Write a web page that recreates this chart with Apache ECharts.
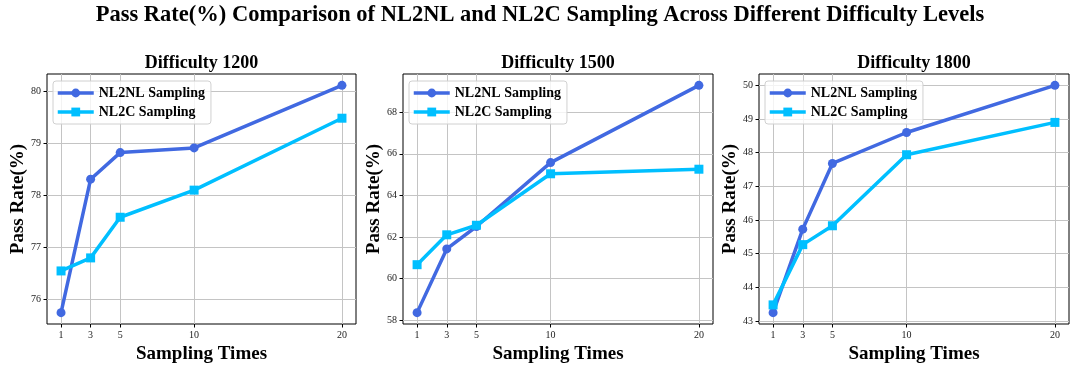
<!DOCTYPE html>
<html>
<head>
<meta charset="utf-8">
<title>Pass Rate Comparison</title>
<script src="https://cdn.jsdelivr.net/npm/echarts@6/dist/echarts.min.js"></script>
<style>
    html, body { margin: 0; padding: 0; background: #fff; }
    #chart { width: 1080px; height: 371px; }
</style>
</head>
<body>
<div id="chart"></div>
<script>
var samplingTimes = [1, 3, 5, 10, 20];
var xTicks = [1, 3, 5, 10, 20];

var nl2nl1200 = [75.75, 78.31, 78.82, 78.91, 80.11];
var nl2c1200 = [76.55, 76.80, 77.58, 78.10, 79.48];
var nl2nl1500 = [58.35, 61.42, 62.50, 65.58, 69.30];
var nl2c1500 = [60.66, 62.10, 62.56, 65.04, 65.26];
var nl2nl1800 = [43.25, 45.73, 47.68, 48.60, 50.00];
var nl2c1800 = [43.48, 45.27, 45.83, 47.94, 48.90];

var yTicks1200 = [76, 77, 78, 79, 80];
var yTicks1500 = [58, 60, 62, 64, 66, 68];
var yTicks1800 = [43, 44, 45, 46, 47, 48, 49, 50];

var difficulties = ["Difficulty 1200", "Difficulty 1500", "Difficulty 1800"];
var seriesNames = ["NL2NL Sampling", "NL2C Sampling"];

(function() {
    var chart = echarts.init(document.getElementById("chart")),
        serif = "'Liberation Serif', 'Times New Roman', serif",
        colors = ["#4169E1", "#00BFFF"],
        lefts = [47, 403, 759],
        widths = [309, 310, 310],
        top = 74,
        height = 250,
        panels = [
            { a: nl2nl1200, b: nl2c1200, ticks: yTicks1200 },
            { a: nl2nl1500, b: nl2c1500, ticks: yTicks1500 },
            { a: nl2nl1800, b: nl2c1800, ticks: yTicks1800 }
        ],
        grid = [], xAxis = [], yAxis = [], series = [], legend = [], title = [];

    // matplotlib style 5% margins
    function pad(arr) {
        var lo = Math.min.apply(Math, arr),
            hi = Math.max.apply(Math, arr),
            m = (hi - lo) * 0.05;
        return [lo - m, hi + m];
    }

    function pairs(ys) {
        return samplingTimes.map(function(x, i) {
            return [x, ys[i]];
        });
    }

    title.push({
        text: "Pass Rate(%) Comparison of NL2NL and NL2C Sampling Across Different Difficulty Levels",
        left: "center",
        top: 4,
        padding: 0,
        textStyle: { fontFamily: serif, fontWeight: "bold", fontSize: 22.5, color: "#000" }
    });

    panels.forEach(function(p, i) {
        var xr = pad(samplingTimes),
            yr = pad(p.a.concat(p.b));

        grid.push({
            left: lefts[i],
            top: top,
            width: widths[i],
            height: height,
            show: true,
            borderColor: "#000",
            borderWidth: 1,
            backgroundColor: "transparent"
        });

        title.push({
            text: difficulties[i],
            left: lefts[i] + widths[i] / 2,
            textAlign: "center",
            top: 54,
            padding: 0,
            textStyle: { fontFamily: serif, fontWeight: "bold", fontSize: 18, color: "#000" }
        });

        xAxis.push({
            type: "value",
            gridIndex: i,
            min: xr[0],
            max: xr[1],
            name: "Sampling Times",
            nameLocation: "middle",
            nameGap: 18,
            nameTextStyle: { fontFamily: serif, fontWeight: "bold", fontSize: 19, color: "#000" },
            axisLine: { show: false },
            axisTick: { show: true, length: 3.5, customValues: xTicks, lineStyle: { color: "#000" } },
            axisLabel: { customValues: xTicks, margin: 6, fontFamily: serif, fontSize: 10, color: "#222" },
            splitLine: { show: true, lineStyle: { color: "#c4c4c4", width: 1 } }
        });

        yAxis.push({
            type: "value",
            gridIndex: i,
            min: yr[0],
            max: yr[1],
            name: "Pass Rate(%)",
            nameLocation: "middle",
            nameGap: 19,
            nameTextStyle: { fontFamily: serif, fontWeight: "bold", fontSize: 19, color: "#000" },
            axisLine: { show: false },
            axisTick: { show: true, length: 3.5, customValues: p.ticks, lineStyle: { color: "#000" } },
            axisLabel: { customValues: p.ticks, margin: 6, fontFamily: serif, fontSize: 10, color: "#222" },
            splitLine: { show: true, lineStyle: { color: "#c4c4c4", width: 1 } }
        });

        [p.a, p.b].forEach(function(ys, k) {
            series.push({
                name: seriesNames[k],
                type: "line",
                xAxisIndex: i,
                yAxisIndex: i,
                data: pairs(ys),
                symbol: k === 0 ? "circle" : "rect",
                symbolSize: 9,
                showAllSymbol: true,
                lineStyle: { color: colors[k], width: 3.5 },
                itemStyle: { color: colors[k] },
                emphasis: { disabled: true },
                animation: false
            });
        });

        legend.push({
            seriesIndex: [i * 2, i * 2 + 1],
            data: seriesNames,
            orient: "vertical",
            left: lefts[i] + 6,
            top: top + 7,
            padding: [5, 6, 5, 3],
            itemGap: 5,
            itemWidth: 36,
            itemHeight: 11,
            lineStyle: { width: 3.5 },
            borderColor: "#d0d0d0",
            borderWidth: 1,
            borderRadius: 3,
            backgroundColor: "rgba(255,255,255,0.8)",
            textStyle: { fontFamily: serif, fontWeight: "bold", fontSize: 14, color: "#000" }
        });
    });

    chart.setOption({
        animation: false,
        title: title,
        grid: grid,
        xAxis: xAxis,
        yAxis: yAxis,
        legend: legend,
        series: series
    });
}());
</script>
</body>
</html>
